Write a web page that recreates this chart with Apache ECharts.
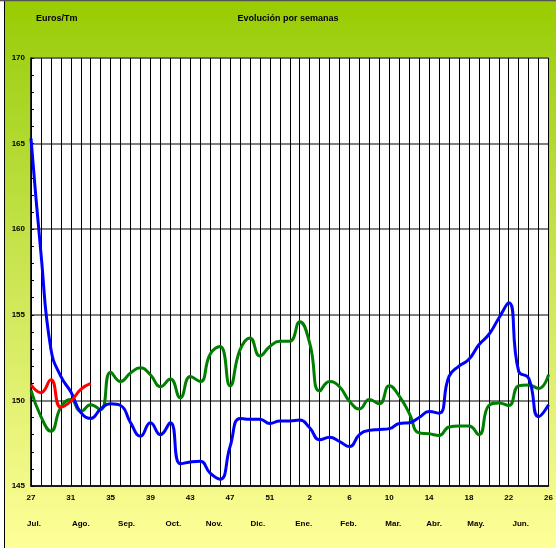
<!DOCTYPE html>
<html>
<head>
<meta charset="utf-8">
<script src="https://cdn.jsdelivr.net/npm/echarts@6/dist/echarts.min.js"></script>
<style>
  html, body { margin: 0; padding: 0; background: #fff; }
  #chart { width: 556px; height: 548px; }
</style>
</head>
<body>
<div id="chart"></div>
<script>
// semanas 27..53, 1..26
const weeks = []
for (let w = 27; w <= 53; w++) weeks.push(String(w))
for (let w = 1; w <= 26; w++) weeks.push(String(w))

const months = ['Jul.', 'Ago.', 'Sep.', 'Oct.', 'Nov.', 'Dic.', 'Ene.', 'Feb.', 'Mar.', 'Abr.', 'May.', 'Jun.']
const monthPos = [0.3, 5, 9.6, 14.3, 18.4, 22.8, 27.4, 31.9, 36.4, 40.5, 44.7, 49.2]

const blue = [
  165.3, 158.6, 153.0, 151.4, 150.5, 149.3, 148.95, 149.5, 149.8, 149.7,
  148.7, 147.9, 148.7, 148.0, 148.7, 146.3, 146.4, 146.45, 145.75, 145.4,
  147.3, 148.95, 148.9, 148.9, 148.65, 148.8, 148.8, 148.85, 148.4, 147.7,
  147.85, 147.6, 147.3, 148.0, 148.25, 148.3, 148.35, 148.65, 148.7, 149.0,
  149.35, 149.25, 151.4, 152.0, 152.4, 153.25, 153.85, 154.8, 155.7, 151.7,
  151.3, 149.05, 149.75
]

const green = [
  150.6, 149.05, 148.2, 149.6, 150.05, 149.35, 149.75, 149.45, 151.65, 151.1,
  151.6, 151.9, 151.5, 150.8, 151.25, 150.15, 151.4, 151.1, 152.7, 153.15,
  150.85, 152.95, 153.65, 152.6, 153.15, 153.45, 153.45, 154.6, 153.35, 150.55,
  151.1, 150.8, 149.95, 149.5, 150.05, 149.8, 150.85, 150.25, 149.25, 148.1,
  148.05, 147.95, 148.45, 148.5, 148.5, 148.0, 149.7, 149.85, 149.7, 150.85,
  150.9, 150.7, 151.5
]

const red = [150.9, 150.45, 151.2, 149.6, 149.95, 150.65, 151.0]

const font = 'Liberation Sans, Arial, sans-serif'

const chart = echarts.init(document.getElementById('chart'))

const line = (data, color) => ({
  type: 'line',
  data: data,
  smooth: 0.5,
  symbol: 'none',
  lineStyle: { color: color, width: 3 },
  z: 5
})

const option = {
  animation: false,
  backgroundColor: new echarts.graphic.LinearGradient(0, 0, 0, 1, [
    { offset: 0, color: '#99cc00' },
    { offset: 0.12, color: '#a3d21c' },
    { offset: 1, color: '#ffff99' }
  ]),
  textStyle: { fontFamily: font },
  title: [
    {
      text: 'Evolución por semanas',
      left: 283,
      top: 9,
      textAlign: 'center',
      textStyle: { fontSize: 9, fontWeight: 'bold', color: '#000', fontFamily: font }
    },
    {
      text: 'Euros/Tm',
      left: 31,
      top: 9,
      textStyle: { fontSize: 9, fontWeight: 'bold', color: '#000', fontFamily: font }
    }
  ],
  grid: {
    left: 31,
    right: 5,
    top: 58,
    bottom: 62,
    show: true,
    backgroundColor: '#fff',
    borderColor: '#808080',
    borderWidth: 1
  },
  xAxis: [
    {
      type: 'category',
      data: weeks,
      boundaryGap: false,
      axisLine: { lineStyle: { color: '#000', width: 1.5 } },
      axisTick: { show: false },
      axisLabel: {
        interval: 3,
        margin: 8,
        fontSize: 8,
        fontWeight: 'bold',
        color: '#000',
        fontFamily: font
      },
      splitLine: { show: true, interval: 0, lineStyle: { color: '#000', width: 1 } }
    },
    {
      type: 'value',
      position: 'bottom',
      min: 0,
      max: 52,
      offset: 26,
      axisLine: { show: false },
      axisTick: { show: false },
      splitLine: { show: false },
      axisLabel: {
        customValues: monthPos,
        formatter: v => months[monthPos.indexOf(v)],
        fontSize: 8,
        fontWeight: 'bold',
        color: '#000',
        fontFamily: font
      }
    }
  ],
  yAxis: {
    type: 'value',
    min: 145,
    max: 170,
    interval: 5,
    axisLine: { show: true, lineStyle: { color: '#000', width: 1.5 } },
    axisTick: { show: true, inside: true, length: 3, lineStyle: { color: '#000' } },
    minorTick: { show: true, splitNumber: 5, length: 3, lineStyle: { color: '#000' } },
    axisLabel: {
      margin: 6,
      fontSize: 8,
      fontWeight: 'bold',
      color: '#000',
      fontFamily: font
    },
    splitLine: { show: true, lineStyle: { color: '#555', width: 1.5 } }
  },
  graphic: [
    { type: 'rect', left: 0, top: 0, shape: { width: 4, height: 548 }, style: { fill: '#fff' }, z: 100 },
    { type: 'line', shape: { x1: 4.5, y1: 0, x2: 4.5, y2: 548 }, style: { stroke: '#000', lineWidth: 1 }, z: 100 },
    { type: 'line', shape: { x1: 0, y1: 0.5, x2: 556, y2: 0.5 }, style: { stroke: '#555', lineWidth: 1.5 }, z: 100 }
  ],
  series: [
    line(green, '#008000'),
    line(blue, '#0000ff'),
    line(red, '#ff0000')
  ]
}

chart.setOption(option)
</script>
</body>
</html>
